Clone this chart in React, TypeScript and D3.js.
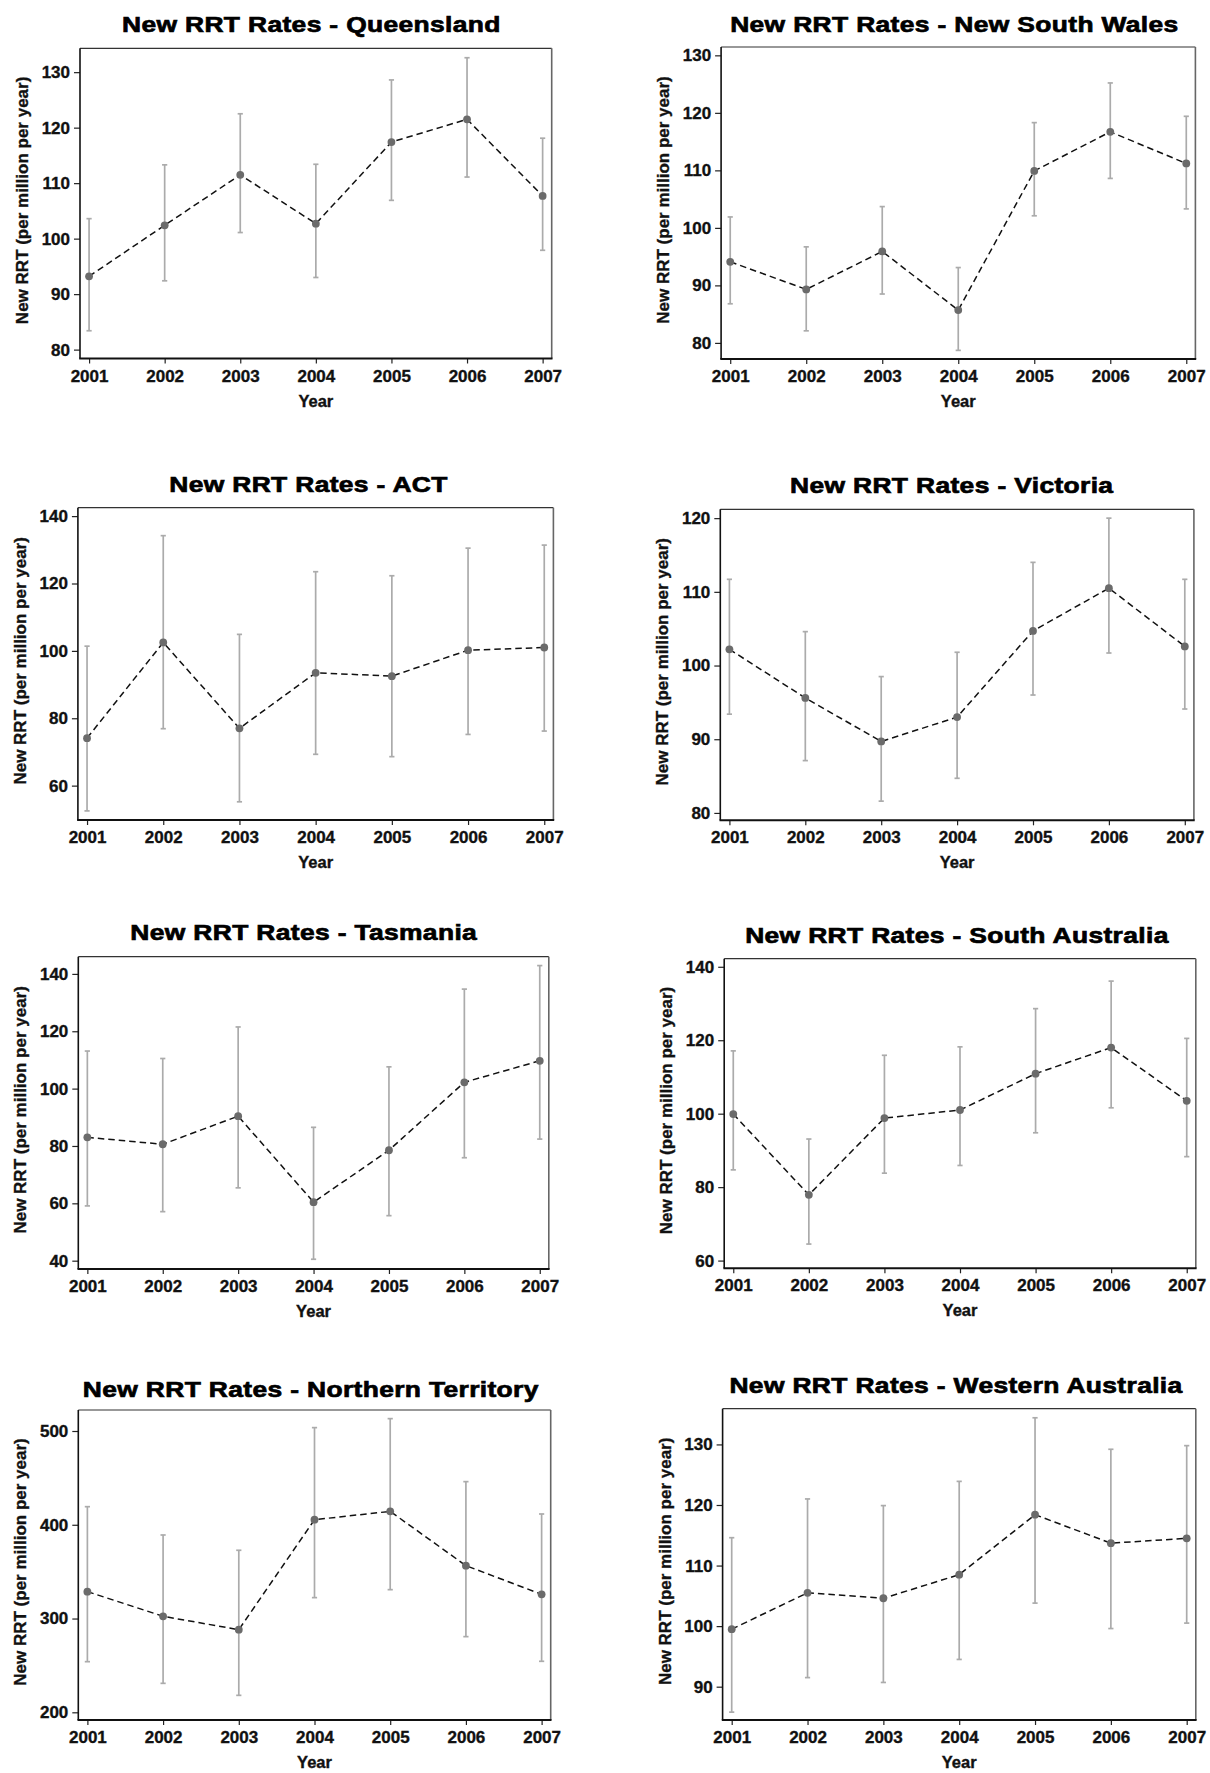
import React, { useEffect, useRef } from 'react';
import * as d3 from 'd3';

const years = [2001, 2002, 2003, 2004, 2005, 2006, 2007];

// Queensland
const qldRate = [93.2, 102.4, 111.5, 102.7, 117.4, 121.5, 107.7];
const qldLow = [83.4, 92.4, 101.1, 93.0, 106.9, 111.1, 97.9];
const qldHigh = [103.6, 113.3, 122.5, 113.4, 128.6, 132.6, 118.1];

// New South Wales
const nswRate = [94.1, 89.3, 95.9, 85.7, 109.9, 116.7, 111.2];
const nswLow = [86.8, 82.1, 88.5, 78.7, 102.1, 108.6, 103.3];
const nswHigh = [101.9, 96.7, 103.7, 93.1, 118.3, 125.2, 119.4];

// ACT
const actRate = [74.1, 102.5, 77.0, 93.5, 92.5, 100.2, 101.0];
const actLow = [52.5, 76.9, 55.2, 69.3, 68.6, 75.2, 76.2];
const actHigh = [101.4, 134.2, 104.9, 123.5, 122.3, 130.5, 131.4];

// Victoria
const vicRate = [102.2, 95.6, 89.7, 93.0, 104.7, 110.5, 102.6];
const vicLow = [93.4, 87.1, 81.6, 84.7, 96.0, 101.7, 94.1];
const vicHigh = [111.7, 104.6, 98.5, 101.8, 114.0, 120.0, 111.7];

// Tasmania
const tasRate = [83.0, 80.6, 90.4, 60.4, 78.5, 102.2, 109.7];
const tasLow = [59.1, 57.1, 65.4, 40.5, 55.7, 75.9, 82.4];
const tasHigh = [113.1, 110.5, 121.5, 86.5, 107.6, 134.7, 142.9];

// South Australia
const saRate = [99.9, 77.9, 98.8, 101.0, 110.9, 118.0, 103.5];
const saLow = [84.7, 64.5, 83.8, 85.9, 94.8, 101.6, 88.3];
const saHigh = [117.1, 93.1, 115.9, 118.2, 128.6, 136.1, 120.5];

// Northern Territory
const ntRate = [328.7, 302.4, 288.1, 405.4, 414.3, 356.4, 325.8];
const ntLow = [254.0, 230.9, 218.1, 322.3, 330.8, 280.7, 254.4];
const ntHigh = [419.3, 389.1, 372.8, 503.6, 513.2, 446.0, 411.5];

// Western Australia
const waRate = [99.5, 105.5, 104.6, 108.5, 118.4, 113.7, 114.5];
const waLow = [85.8, 91.5, 90.7, 94.5, 103.8, 99.6, 100.5];
const waHigh = [114.6, 121.0, 119.9, 123.9, 134.4, 129.2, 129.8];

const regions = ['Queensland', 'New South Wales', 'ACT', 'Victoria', 'Tasmania', 'South Australia', 'Northern Territory', 'Western Australia'];
const rates = [qldRate, nswRate, actRate, vicRate, tasRate, saRate, ntRate, waRate];
const lows = [qldLow, nswLow, actLow, vicLow, tasLow, saLow, ntLow, waLow];
const highs = [qldHigh, nswHigh, actHigh, vicHigh, tasHigh, saHigh, ntHigh, waHigh];
const yDomains = [[78.4, 134.3], [77.2, 131.45], [49.8, 142.5], [79.0, 121.2], [37.1, 146.0], [57.9, 142.2], [191.8, 522.4], [84.5, 135.9]];
const yTickSets = [
  [80, 90, 100, 110, 120, 130],
  [80, 90, 100, 110, 120, 130],
  [60, 80, 100, 120, 140],
  [80, 90, 100, 110, 120],
  [40, 60, 80, 100, 120, 140],
  [60, 80, 100, 120, 140],
  [200, 300, 400, 500],
  [90, 100, 110, 120, 130]
];

// frame boxes and title anchors for each panel (page pixels)
const layout = [
  { left: 80, right: 551.7, top: 48.3, bottom: 358.5, titleX: 311.4, titleY: 32.3 },
  { left: 721.1, right: 1195.4, top: 47, bottom: 359, titleX: 954.4, titleY: 32.3 },
  { left: 77.9, right: 553.4, top: 507.7, bottom: 820, titleX: 308.5, titleY: 491.7 },
  { left: 720.3, right: 1193.9, top: 509.3, bottom: 820.3, titleX: 951.7, titleY: 492.7 },
  { left: 78.3, right: 548.8, top: 956.7, bottom: 1269, titleX: 303.7, titleY: 940 },
  { left: 724.2, right: 1195.8, top: 958.7, bottom: 1268.3, titleX: 956.9, titleY: 943.3 },
  { left: 78.3, right: 550.7, top: 1410, bottom: 1720, titleX: 310.8, titleY: 1396.7 },
  { left: 722.6, right: 1195.8, top: 1408.7, bottom: 1720, titleX: 956, titleY: 1393.3 }
];

const FONT = "'Liberation Sans', Arial, Helvetica, sans-serif";

const App = () => {
  const svgRef = useRef(null);

  useEffect(() => {
    const svg = d3.select(svgRef.current);
    svg.selectAll('*').remove();

    regions.forEach((name, i) => {
      const box = layout[i];
      const x = d3.scaleLinear().domain([2000.88, 2007.12]).range([box.left, box.right]);
      const y = d3.scaleLinear().domain(yDomains[i]).range([box.bottom, box.top]);
      const g = svg.append('g');

      // title: heavy, wide face imitated by stretching bold Arial-metric text
      g.append('text')
        .attr('transform', `translate(${box.titleX},${box.titleY}) scale(1.2,1)`)
        .attr('text-anchor', 'middle')
        .attr('font-family', FONT)
        .attr('font-weight', 'bold')
        .attr('font-size', 22)
        .attr('letter-spacing', 0.3)
        .attr('fill', '#000')
        .attr('stroke', '#000')
        .attr('stroke-width', 0.7)
        .text(`New RRT Rates - ${name}`);

      // axes
      const yAxis = g.append('g')
        .attr('transform', `translate(${box.left},0)`)
        .call(d3.axisLeft(y).tickValues(yTickSets[i]).tickSize(6).tickPadding(4).tickFormat(d3.format('d')));
      const xAxis = g.append('g')
        .attr('transform', `translate(0,${box.bottom})`)
        .call(d3.axisBottom(x).tickValues(years).tickSize(5).tickPadding(6).tickFormat(d3.format('d')));

      [yAxis, xAxis].forEach(a => {
        a.select('.domain').remove();
        a.selectAll('.tick line').attr('stroke', '#222').attr('stroke-width', 1.2);
        a.selectAll('text')
          .attr('fill', '#111')
          .attr('stroke', '#111')
          .attr('stroke-width', 0.35)
          .attr('font-family', FONT)
          .attr('font-weight', 'bold')
          .attr('font-size', 17);
      });

      // frame
      g.append('line').attr('x1', box.left).attr('x2', box.right).attr('y1', box.top).attr('y2', box.top)
        .attr('stroke', '#333').attr('stroke-width', 1.2);
      g.append('line').attr('x1', box.right).attr('x2', box.right).attr('y1', box.top).attr('y2', box.bottom)
        .attr('stroke', '#666').attr('stroke-width', 1.6);
      g.append('line').attr('x1', box.left).attr('x2', box.left).attr('y1', box.top).attr('y2', box.bottom)
        .attr('stroke', '#111').attr('stroke-width', 1.6);
      g.append('line').attr('x1', box.left - 0.8).attr('x2', box.right + 0.8).attr('y1', box.bottom).attr('y2', box.bottom)
        .attr('stroke', '#111').attr('stroke-width', 2);

      // axis titles
      g.append('text')
        .attr('transform', `translate(${box.left - 52},${(box.top + box.bottom) / 2 - 3}) rotate(-90)`)
        .attr('text-anchor', 'middle')
        .attr('font-family', FONT)
        .attr('font-weight', 'bold')
        .attr('font-size', 17)
        .attr('fill', '#111')
        .attr('stroke', '#111')
        .attr('stroke-width', 0.35)
        .text('New RRT (per million per year)');

      g.append('text')
        .attr('x', (box.left + box.right) / 2)
        .attr('y', box.bottom + 48)
        .attr('text-anchor', 'middle')
        .attr('font-family', FONT)
        .attr('font-weight', 'bold')
        .attr('font-size', 16.5)
        .attr('fill', '#111')
        .attr('stroke', '#111')
        .attr('stroke-width', 0.35)
        .text('Year');

      const pts = years.map((yr, j) => ({ yr, v: rates[i][j], lo: lows[i][j], hi: highs[i][j] }));

      // error bars
      const bars = g.append('g').attr('stroke', '#ababab').attr('stroke-width', 1.7);
      pts.forEach(d => {
        bars.append('line').attr('x1', x(d.yr)).attr('x2', x(d.yr)).attr('y1', y(d.lo)).attr('y2', y(d.hi));
        bars.append('line').attr('x1', x(d.yr) - 2.6).attr('x2', x(d.yr) + 2.6).attr('y1', y(d.lo)).attr('y2', y(d.lo));
        bars.append('line').attr('x1', x(d.yr) - 2.6).attr('x2', x(d.yr) + 2.6).attr('y1', y(d.hi)).attr('y2', y(d.hi));
      });

      // dashed trend line
      const line = d3.line().x(d => x(d.yr)).y(d => y(d.v));
      g.append('path')
        .datum(pts)
        .attr('fill', 'none')
        .attr('stroke', '#111')
        .attr('stroke-width', 1.5)
        .attr('stroke-dasharray', '6.5,4')
        .attr('d', line);

      g.selectAll('circle.pt')
        .data(pts)
        .enter()
        .append('circle')
        .attr('class', 'pt')
        .attr('cx', d => x(d.yr))
        .attr('cy', d => y(d.v))
        .attr('r', 3.9)
        .attr('fill', '#6b6b6b');
    });
  }, []);

  return (
    <div style={{ position: 'absolute', left: 0, top: 0, background: 'white' }}>
      <svg ref={svgRef} width={1210} height={1773} style={{ display: 'block' }}></svg>
    </div>
  );
};

export default App;
